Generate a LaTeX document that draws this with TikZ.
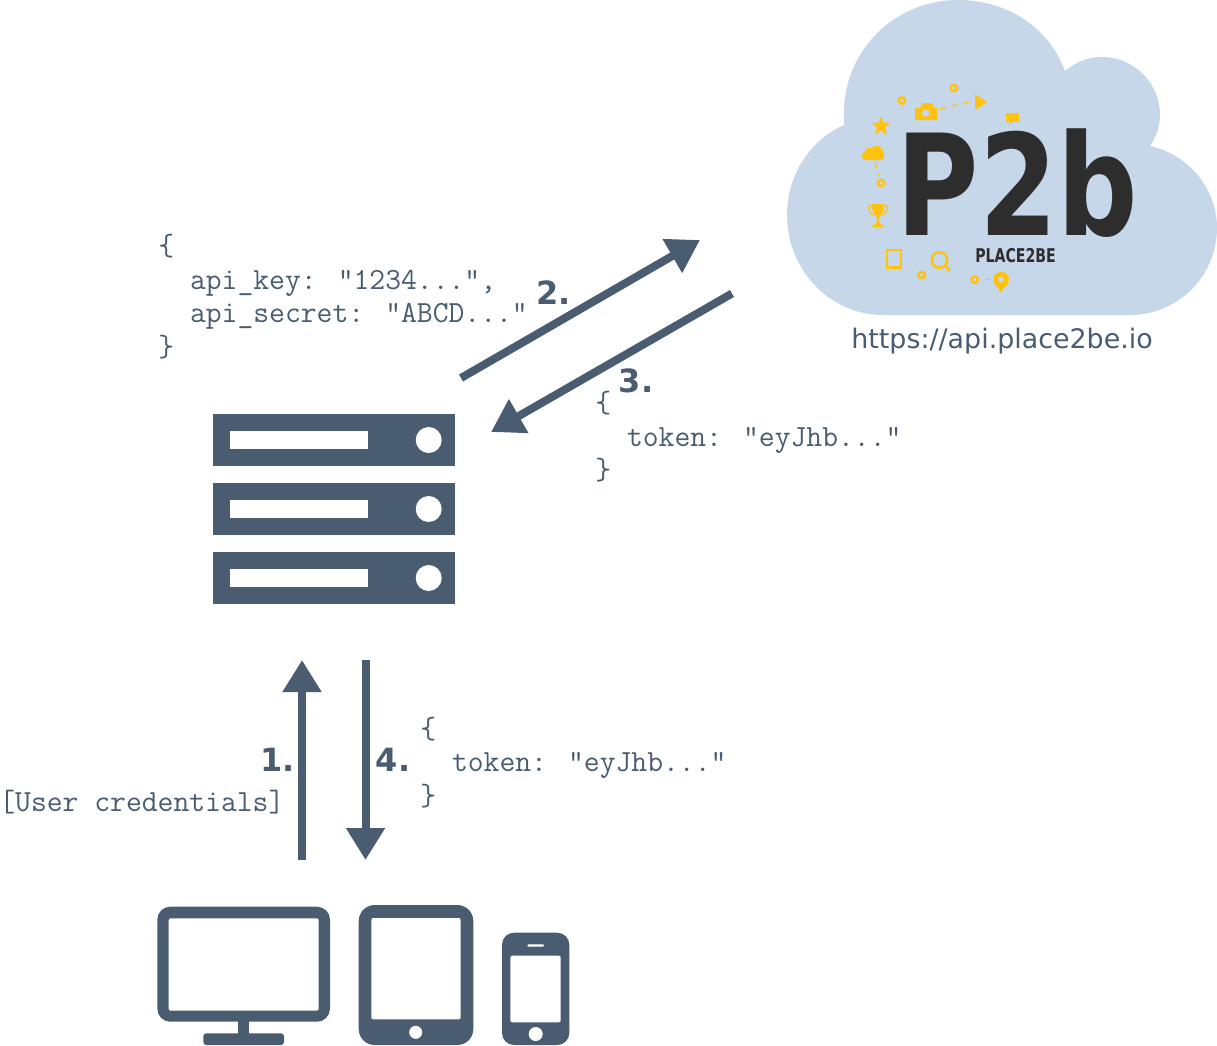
\documentclass[tikz,border=0pt]{standalone}
\usepackage{fontspec}
\setmainfont{DejaVu Sans}
\usetikzlibrary{arrows.meta}

\definecolor{slate}{HTML}{4A5C70}
\definecolor{cloudblue}{HTML}{C6D7EA}
\definecolor{logoyellow}{HTML}{FFC20E}
\definecolor{logodark}{HTML}{2D2D2D}

\tikzset{
	flow/.style={slate, line width=0.16cm, -{Triangle[length=0.64cm, width=0.74cm]}},
	json/.style={slate, inner sep=0pt, anchor=north west, align=left, font=\fontsize{17.5}{19.06}\selectfont\ttfamily},
	stepnum/.style={slate, inner sep=0pt, anchor=base west, font=\fontsize{18.2}{22}\selectfont\bfseries},
	logotext/.style={logodark, inner sep=0pt, anchor=base west, text depth=0pt, transform shape},
	ring/.style={logoyellow, line width=0.05cm},
	trail/.style={logoyellow, line width=0.025cm, dash pattern=on 0.13cm off 0.11cm}
}

\begin{document}
\begin{tikzpicture}[x=0.02cm, y=-0.02cm]
	\useasboundingbox (0,0) rectangle (1217,1045);

	% Draw the cloud
	\fill[cloudblue] (844,125) -- (844,113) .. controls (844,50) and (895,0) .. (958,0)
		.. controls (1010,0) and (1050,30) .. (1065,71)
		.. controls (1076,62) and (1088,57) .. (1102,57)
		.. controls (1134,57) and (1160,83) .. (1160,115)
		.. controls (1160,127) and (1156,137) .. (1150,146)
		.. controls (1190,155) and (1217,190) .. (1217,228)
		.. controls (1217,276) and (1178,315) .. (1130,315)
		-- (883,315) .. controls (830,315) and (787,270) .. (787,215)
		.. controls (787,175) and (810,140) .. (844,125) -- cycle;

	% Logo lettering
	\node[logotext, xscale=0.8, font=\fontsize{80}{80}\selectfont\bfseries] (logoMark) at (896.5,235) {P2b};
	\node[logotext, xscale=0.745, font=\fontsize{10.8}{12}\selectfont\bfseries] (logoName) at (975,262) {PLACE2BE};

	% Small icons round the logo
	\foreach \x/\y in {902/100.5, 954/88, 881/183, 921.7/275, 974.7/279.7}
		\draw[ring] (\x,\y) circle (3.2);
	\draw[trail] (940,109) -- (973,101);
	\draw[trail] (875,162) -- (879,176);
	\draw[trail] (985,279.7) -- (990,279.7);
	\fill[logoyellow] (975,94) -- (987,102) -- (975,110) -- cycle;
	% camera
	\fill[logoyellow] (915,108) -- (920,108) -- (923,103) -- (932,103) -- (934,108) -- (937,108) -- (937,120) -- (915,120) -- cycle;
	\fill[cloudblue] (925.7,113) circle (3.7);
	% speech bubble
	\fill[logoyellow] (1006,112.7) rectangle (1019,121.7);
	\fill[logoyellow] (1009,121) -- (1014,121) -- (1009,125) -- cycle;
	% star
	\fill[logoyellow] (881,116.5) -- (883.5,122.5) -- (890.5,123) -- (885,127.5) -- (887,134.5) -- (881,130.5)
		-- (875,134.5) -- (877,127.5) -- (871.5,123) -- (878.5,122.5) -- cycle;
	% small cloud
	\fill[logoyellow, rounded corners=0.07cm] (862,152) rectangle (884,160);
	\fill[logoyellow] (869,152) circle (4.5) (876.5,151) circle (5.5) (880,153) circle (4);
	% trophy
	\fill[logoyellow] (871.7,204) -- (884.3,204) .. controls (884,212) and (881,216) .. (879,217) -- (879,222)
		-- (884,227) -- (871.7,227) -- (877,222) -- (877,217) .. controls (875,216) and (872,212) .. (871.7,204) -- cycle;
	\draw[logoyellow, line width=0.025cm] (872,206) -- (868.5,206) .. controls (868.5,211) and (871,214) .. (874,215);
	\draw[logoyellow, line width=0.025cm] (884,206) -- (887.5,206) .. controls (887.5,211) and (885,214) .. (882,215);
	% tablet
	\draw[logoyellow, line width=0.04cm] (887,250) rectangle (901,268);
	\fill[logoyellow] (886,265.5) rectangle (902,269);
	% magnifier
	\draw[ring] (939.5,260) circle (7.8);
	\draw[ring] (945,266) -- (950,270.7);
	% pin
	\fill[logoyellow] (1001,293) .. controls (998,286) and (993.3,285) .. (993.3,279.5)
		.. controls (993.3,275) and (996.5,272) .. (1001,272)
		.. controls (1005.5,272) and (1009,275) .. (1009,279.5)
		.. controls (1009,285) and (1004,286) .. (1001,293) -- cycle;
	\fill[cloudblue] (1001,279.5) circle (3);

	\node[font=\fontsize{15.3}{19}\selectfont, slate, inner sep=0pt, anchor=base west] (apiUrl) at (851,348) {https://api.place2be.io};

	% Server: three rows
	\foreach \y in {414,483,552} {
		\fill[slate] (213,\y) rectangle (455,\y+52);
		\fill[white] (230,\y+17) rectangle (368,\y+34.5);
		\fill[white] (428.7,\y+26) circle (13);
	}

	% Desktop
	\fill[slate, rounded corners=0.26cm] (157.3,906.7) rectangle (330,1021.7);
	\fill[white, rounded corners=0.04cm] (168.7,918.3) rectangle (318.7,1010.7);
	\fill[slate] (238,1020) rectangle (249.3,1034);
	\fill[slate, rounded corners=0.06cm] (203.3,1033.3) rectangle (284,1045);
	% Tablet
	\fill[slate, rounded corners=0.32cm] (358.7,905) rectangle (473.3,1045);
	\fill[white, rounded corners=0.04cm] (371.3,918) rectangle (460.7,1019.3);
	\fill[white] (415.7,1032.3) circle (6.5);
	% Phone
	\fill[slate, rounded corners=0.24cm] (502,932.7) rectangle (569.3,1045);
	\fill[white, rounded corners=0.04cm] (510.3,955.7) rectangle (560.7,1022.3);
	\fill[white, rounded corners=0.02cm] (527.3,944.3) rectangle (544,946.7);
	\fill[white] (535.7,1034) circle (7);

	% Arrows
	\coordinate (clientOut) at (302,860);
	\coordinate (serverIn) at (302,660);
	\coordinate (serverOut) at (365.5,660);
	\coordinate (clientIn) at (365.5,860);
	\coordinate (authOut) at (461,378);
	\coordinate (cloudIn) at (700,240);
	\coordinate (cloudOut) at (732,293.5);
	\coordinate (tokenIn) at (491,432);
	\draw[flow] (clientOut) -- (serverIn);
	\draw[flow] (serverOut) -- (clientIn);
	\draw[flow] (authOut) -- (cloudIn);
	\draw[flow] (cloudOut) -- (tokenIn);

	\node[stepnum] (stepOne) at (260,771.7) {1.};
	\node[stepnum] (stepFour) at (375.5,771.7) {4.};
	\node[stepnum] (stepTwo) at (536,304) {2.};
	\node[stepnum] (stepThree) at (618.5,392) {3.};

	\node[json] (apiCreds) at (158,234) {\{\\\phantom{xx}api\_key: "1234...",\\\phantom{xx}api\_secret: "ABCD..."\\\}};
	\node[json] (apiToken) at (595,391) {\{\\\phantom{xx}token: "eyJhb..."\\\}};
	\node[json] (userToken) at (420,716.5) {\{\\\phantom{xx}token: "eyJhb..."\\\}};
	\node[json, anchor=base west] (userCreds) at (-1,811) {[User credentials]};
\end{tikzpicture}
\end{document}
